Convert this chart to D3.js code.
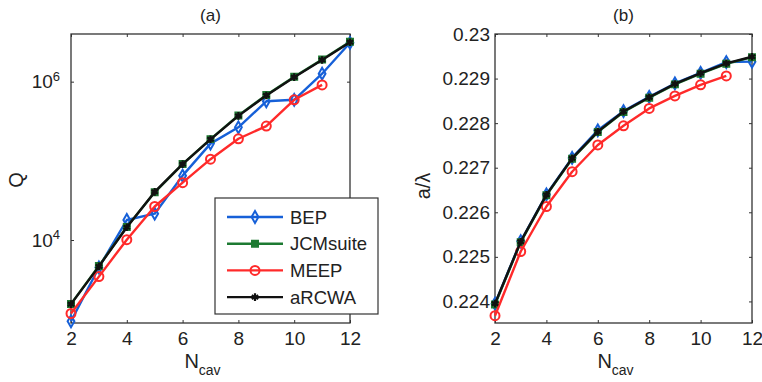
<!DOCTYPE html>
<html>
<head>
<meta charset="utf-8">
<script src="https://cdn.jsdelivr.net/npm/d3@7"></script>
<style>
  body { margin: 0; background: #fff; }
  text { font-family: "Liberation Sans", Arial, Helvetica, sans-serif; fill: #222; }
</style>
</head>
<body>
<div id="chart"></div>
<script>
// N_cav values shared by both panels
const nCav = [2, 3, 4, 5, 6, 7, 8, 9, 10, 11, 12];
const nCavMeep = [2, 3, 4, 5, 6, 7, 8, 9, 10, 11];

// panel (a): quality factor Q (log scale)
const qBEP = [940, 4500, 17900, 21500, 65000, 165000, 265000, 565000, 590000, 1260000, 3100000];
const qJCM = [1560, 4700, 14600, 40000, 91000, 188000, 375000, 680000, 1150000, 1900000, 3200000];
const qMEEP = [1180, 3450, 10100, 26500, 53000, 105000, 190000, 275000, 590000, 910000];
const qRCWA = [1550, 4650, 14500, 40500, 91000, 187000, 370000, 670000, 1140000, 1880000, 3150000];

// panel (b): normalised frequency a/lambda
const fBEP = [0.22395, 0.22535, 0.22640, 0.22722, 0.22784, 0.22827, 0.22859, 0.22889, 0.22913, 0.22937, 0.22938];
const fJCM = [0.22393, 0.22533, 0.22638, 0.22720, 0.22780, 0.22825, 0.22857, 0.22887, 0.22911, 0.22933, 0.22948];
const fMEEP = [0.22368, 0.22512, 0.22613, 0.22691, 0.22751, 0.22794, 0.22833, 0.22861, 0.22886, 0.22906];
const fRCWA = [0.22395, 0.22534, 0.22639, 0.22721, 0.22781, 0.22826, 0.22858, 0.22888, 0.22912, 0.22934, 0.22949];

const xTicks = [2, 4, 6, 8, 10, 12];
const qTicks = [1e4, 1e6];
const fTicks = [0.224, 0.225, 0.226, 0.227, 0.228, 0.229, 0.23];
const seriesNames = ['BEP', 'JCMsuite', 'MEEP', 'aRCWA'];

const colors = { BEP: '#1660d8', JCMsuite: '#1d7a32', MEEP: '#ff2a2a', aRCWA: '#111111' };

const svg = d3.select('#chart')
  .append('svg')
  .attr('width', 762)
  .attr('height', 382);

svg.append('rect').attr('width', 762).attr('height', 382).attr('fill', '#fff');

function marker(g, name, x, y) {
  const c = colors[name];
  if (name === 'BEP') {
    g.append('path')
      .attr('d', d3.symbol().type(d3.symbolDiamond).size(40)())
      .attr('transform', `translate(${x},${y})`)
      .attr('fill', 'none').attr('stroke', c).attr('stroke-width', 2);
  } else if (name === 'JCMsuite') {
    g.append('path')
      .attr('d', d3.symbol().type(d3.symbolSquare).size(42)())
      .attr('transform', `translate(${x},${y})`)
      .attr('fill', c).attr('stroke', c).attr('stroke-width', 1.5);
  } else if (name === 'MEEP') {
    g.append('circle')
      .attr('cx', x).attr('cy', y).attr('r', 4.5)
      .attr('fill', 'none').attr('stroke', c).attr('stroke-width', 2);
  } else {
    g.append('path')
      .attr('d', d3.symbol().type(d3.symbolAsterisk).size(40)())
      .attr('transform', `translate(${x},${y})`)
      .attr('fill', 'none').attr('stroke', c).attr('stroke-width', 2.2);
  }
}

function panel(opt) {
  const { left, right, top, bottom } = opt;
  const g = svg.append('g');

  const x = d3.scaleLinear().domain([2, 12]).range([left, right]);
  const y = opt.y.range([bottom, top]);

  // box
  g.append('rect')
    .attr('x', left).attr('y', top)
    .attr('width', right - left).attr('height', bottom - top)
    .attr('fill', 'none').attr('stroke', '#333').attr('stroke-width', 1.3);

  const axes = [
    g.append('g').attr('transform', `translate(0,${bottom})`)
      .call(d3.axisBottom(x).tickValues(xTicks).tickSizeInner(-3).tickSizeOuter(0).tickPadding(9)),
    g.append('g').attr('transform', `translate(0,${top})`)
      .call(d3.axisTop(x).tickValues(xTicks).tickSizeInner(-3).tickSizeOuter(0).tickFormat('')),
    g.append('g').attr('transform', `translate(${left},0)`)
      .call(d3.axisLeft(y).tickValues(opt.yTicks).tickSizeInner(-3).tickSizeOuter(0)
        .tickPadding(opt.yPad).tickFormat(opt.yFormat)),
    g.append('g').attr('transform', `translate(${right},0)`)
      .call(d3.axisRight(y).tickValues(opt.yTicks).tickSizeInner(-3).tickSizeOuter(0).tickFormat('')),
  ];
  axes.forEach((a) => {
    a.select('.domain').remove();
    a.selectAll('line').attr('stroke', '#333');
    a.selectAll('text').attr('font-size', 19).attr('fill', '#222')
      .style('font-family', '"Liberation Sans", Arial, sans-serif');
  });
  if (opt.superscript) {
    axes[2].selectAll('.tick text').each(function (d) {
      const t = d3.select(this);
      t.text(null);
      t.append('tspan').text('10');
      t.append('tspan').attr('dy', '-0.55em').attr('font-size', 13).text(Math.round(Math.log10(d)));
    });
  }

  // series
  const line = d3.line().x((d) => x(d[0])).y((d) => y(d[1]));
  opt.series.forEach((s) => {
    const pts = s.xs.map((v, i) => [v, s.values[i]]);
    g.append('path').datum(pts)
      .attr('d', line)
      .attr('fill', 'none')
      .attr('stroke', colors[s.name])
      .attr('stroke-width', 2.4)
      .attr('stroke-linejoin', 'round');
    pts.forEach((p) => marker(g, s.name, x(p[0]), y(p[1])));
  });

  // title
  g.append('text')
    .attr('x', (left + right) / 2).attr('y', 21)
    .attr('text-anchor', 'middle').attr('font-size', 17)
    .text(opt.title);

  // x label
  const xl = g.append('text')
    .attr('x', (left + right) / 2 - 8).attr('y', 368)
    .attr('text-anchor', 'middle').attr('font-size', 20);
  xl.append('tspan').text('N');
  xl.append('tspan').attr('dy', 7).attr('font-size', 14).text('cav');

  // y label
  g.append('text')
    .attr('transform', `translate(${opt.yLabelX},${opt.yLabelY}) rotate(-90)`)
    .attr('text-anchor', 'middle').attr('font-size', 20)
    .text(opt.yLabel);

  return g;
}

const panelA = panel({
  left: 71, right: 350, top: 34, bottom: 323,
  y: d3.scaleLog().domain([895, 4.0e6]),
  yTicks: qTicks, yPad: 11, yFormat: (d) => d, superscript: true,
  title: '(a)', yLabel: 'Q', yLabelX: 23, yLabelY: 180,
  series: [
    { name: 'BEP', xs: nCav, values: qBEP },
    { name: 'JCMsuite', xs: nCav, values: qJCM },
    { name: 'MEEP', xs: nCavMeep, values: qMEEP },
    { name: 'aRCWA', xs: nCav, values: qRCWA },
  ],
});

panel({
  left: 495, right: 752, top: 34, bottom: 323,
  y: d3.scaleLinear().domain([0.223516, 0.23]),
  yTicks: fTicks, yPad: 5, yFormat: (d) => String(+d.toFixed(3)),
  title: '(b)', yLabel: 'a/λ', yLabelX: 430, yLabelY: 186,
  series: [
    { name: 'BEP', xs: nCav, values: fBEP },
    { name: 'JCMsuite', xs: nCav, values: fJCM },
    { name: 'MEEP', xs: nCavMeep, values: fMEEP },
    { name: 'aRCWA', xs: nCav, values: fRCWA },
  ],
});

// legend in panel (a)
const legend = panelA.append('g');
legend.append('rect')
  .attr('x', 215).attr('y', 198).attr('width', 163).attr('height', 116)
  .attr('fill', '#fff').attr('stroke', '#333').attr('stroke-width', 1.2);
seriesNames.forEach((name, i) => {
  const ly = 217 + i * 26.7;
  legend.append('line')
    .attr('x1', 227).attr('x2', 283).attr('y1', ly).attr('y2', ly)
    .attr('stroke', colors[name]).attr('stroke-width', 2.4);
  marker(legend, name, 255, ly);
  legend.append('text')
    .attr('x', 290).attr('y', ly).attr('dy', '0.36em')
    .attr('font-size', 18.5)
    .text(name);
});
</script>
</body>
</html>
